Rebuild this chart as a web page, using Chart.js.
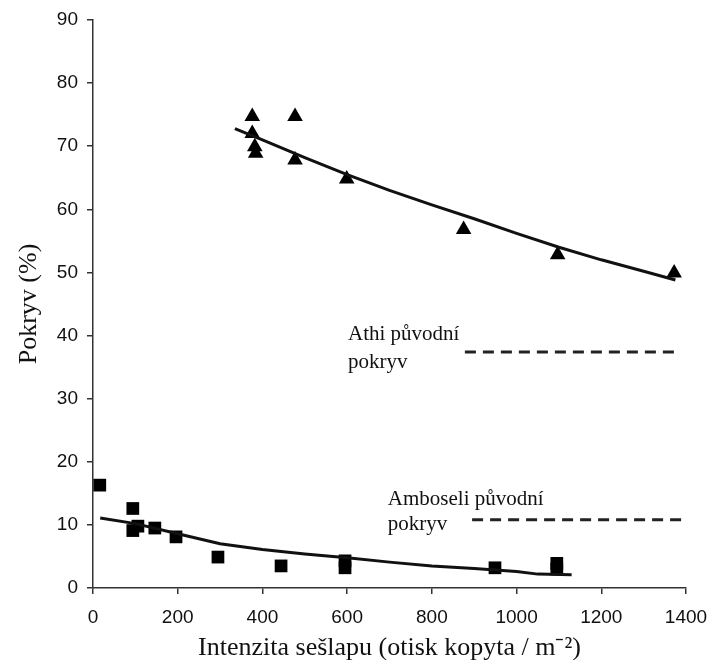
<!DOCTYPE html>
<html>
<head>
<meta charset="utf-8">
<script src="https://cdn.jsdelivr.net/npm/chart.js@4"></script>
<style>
  html, body { margin: 0; padding: 0; background: #fff; }
  #c { display: block; }
</style>
</head>
<body>
<canvas id="c" width="709" height="660"></canvas>
<script>
// Athi: measured cover vs. trampling intensity
const athiX = [376, 477, 376, 382, 384, 477, 599, 875, 1097, 1372];
const athiY = [74.7, 74.7, 72.0, 69.9, 68.9, 67.8, 64.8, 56.8, 52.8, 49.9];
// Athi: fitted trend
const athiFitX = [335, 400, 500, 600, 700, 800, 900, 1000, 1100, 1200, 1300, 1375];
const athiFitY = [72.8, 71.0, 68.2, 65.5, 63.0, 60.7, 58.5, 56.2, 54.0, 52.0, 50.2, 48.8];
// Athi: original cover
const athiOrigX = [878, 1381];
const athiOrigY = [37.4, 37.4];

// Amboseli: measured cover vs. trampling intensity
const ambX = [16, 94, 94, 106, 146, 196, 295, 444, 595, 595, 949, 1095, 1095];
const ambY = [16.3, 12.6, 9.1, 9.8, 9.5, 8.1, 4.9, 3.5, 4.3, 3.2, 3.2, 3.9, 3.0];
// Amboseli: fitted trend
const ambFitX = [17, 100, 200, 300, 400, 500, 600, 700, 800, 900, 1000, 1050, 1130];
const ambFitY = [11.1, 10.2, 8.6, 7.0, 6.1, 5.4, 4.8, 4.1, 3.5, 3.1, 2.6, 2.2, 2.1];
// Amboseli: original cover
const ambOrigX = [895, 1391];
const ambOrigY = [10.8, 10.8];

// Axis ticks
const xTicks = [0, 200, 400, 600, 800, 1000, 1200, 1400];
const yTicks = [0, 10, 20, 30, 40, 50, 60, 70, 80, 90];

// In-plot notes: [x, y, text]
const notes = [
  [602, 39.3, 'Athi původní'],
  [602, 34.9, 'pokryv'],
  [696, 13.2, 'Amboseli původní'],
  [696, 9.2, 'pokryv']
];

const pts = (xs, ys) => xs.map((x, i) => ({ x, y: ys[i] }));
const INK = '#111';
const AXIS = '#333';

const notesPlugin = {
  id: 'notes',
  afterDatasetsDraw(chart) {
    const { ctx, scales: { x, y } } = chart;
    ctx.save();
    ctx.fillStyle = INK;
    ctx.font = '21px "Liberation Serif", "Times New Roman", serif';
    ctx.textAlign = 'left';
    ctx.textBaseline = 'alphabetic';
    notes.forEach(([nx, ny, t]) => {
      ctx.fillText(t, x.getPixelForValue(nx), y.getPixelForValue(ny));
    });
    ctx.restore();
  }
};

new Chart(document.getElementById('c'), {
  type: 'scatter',
  data: {
    datasets: [
      { type: 'line', data: pts(athiFitX, athiFitY), borderColor: INK, borderWidth: 3, pointRadius: 0, tension: 0, fill: false },
      { type: 'line', data: pts(ambFitX, ambFitY), borderColor: INK, borderWidth: 3, pointRadius: 0, tension: 0, fill: false },
      { type: 'line', data: pts(athiOrigX, athiOrigY), borderColor: '#222', borderWidth: 3, borderDash: [11, 7], pointRadius: 0, fill: false },
      { type: 'line', data: pts(ambOrigX, ambOrigY), borderColor: '#222', borderWidth: 3, borderDash: [11, 7], pointRadius: 0, fill: false },
      { data: pts(athiX, athiY), pointStyle: 'triangle', pointRadius: 9, pointHoverRadius: 9, backgroundColor: '#000', borderColor: '#000', borderWidth: 0 },
      { data: pts(ambX, ambY), pointStyle: 'rect', pointRadius: 9, pointHoverRadius: 9, backgroundColor: '#000', borderColor: '#000', borderWidth: 0 }
    ]
  },
  options: {
    responsive: false,
    animation: false,
    events: [],
    layout: { padding: { top: 20, right: 23, left: 0, bottom: 0 } },
    plugins: { legend: { display: false }, tooltip: { enabled: false } },
    scales: {
      x: {
        type: 'linear', min: 0, max: 1400,
        afterBuildTicks: s => { s.ticks = xTicks.map(v => ({ value: v })); },
        afterFit: s => { s.height = 72; s.paddingRight = 0; s.paddingLeft = 0; },
        border: { display: true, color: AXIS, width: 1.5 },
        grid: { drawOnChartArea: false, drawTicks: true, tickLength: 6, color: AXIS, lineWidth: 1.5 },
        ticks: { color: '#111', padding: 12, maxRotation: 0, callback: v => String(v), font: { family: '"Liberation Sans", Arial, sans-serif', size: 19 } },
        title: {
          display: true,
          text: 'Intenzita sešlapu (otisk kopyta / m⁻²)',
          color: INK,
          font: { family: '"Liberation Serif", "Times New Roman", serif', size: 26, weight: 'normal' },
          padding: { top: 0, bottom: -4 }
        }
      },
      y: {
        type: 'linear', min: 0, max: 90,
        afterBuildTicks: s => { s.ticks = yTicks.map(v => ({ value: v })); },
        afterFit: s => { s.width = 93; s.paddingTop = 0; s.paddingBottom = 0; },
        border: { display: true, color: AXIS, width: 1.5 },
        grid: { drawOnChartArea: false, drawTicks: true, tickLength: 6, color: AXIS, lineWidth: 1.5 },
        ticks: { color: '#111', padding: 9, callback: v => String(v), font: { family: '"Liberation Sans", Arial, sans-serif', size: 19 } },
        title: {
          display: true,
          text: 'Pokryv (%)',
          color: INK,
          font: { family: '"Liberation Serif", "Times New Roman", serif', size: 26, weight: 'normal' },
          padding: { top: 14, bottom: 0 }
        }
      }
    }
  },
  plugins: [notesPlugin]
});
</script>
</body>
</html>
